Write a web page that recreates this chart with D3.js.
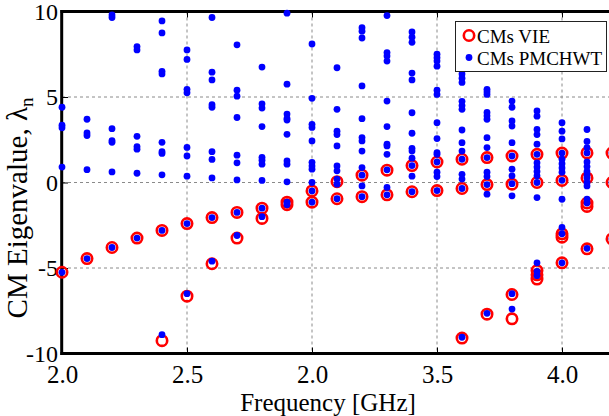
<!DOCTYPE html>
<html>
<head>
<meta charset="utf-8">
<script src="https://cdn.jsdelivr.net/npm/d3@7"></script>
<style>
  html, body { margin: 0; padding: 0; background: #fff; }
  svg { display: block; font-family: "Liberation Serif", "Times New Roman", serif; }
</style>
</head>
<body>
<svg id="chart" width="609" height="416"></svg>
<script>
// Frequency samples (GHz)
const frequencies = [2.0, 2.1, 2.2, 2.3, 2.4, 2.5, 2.6, 2.7, 2.8, 2.9, 3.0, 3.1,
                     3.2, 3.3, 3.4, 3.5, 3.6, 3.7, 3.8, 3.9, 4.0, 4.1, 4.2];

// Characteristic-mode eigenvalues from the volume integral equation solver
const vieEigenvalues = [
  [-5.25],
  [-4.45],
  [-3.8],
  [-3.25],
  [-2.8, -9.25],
  [-2.4, -6.65],
  [-2.05, -4.75],
  [-1.75, -3.25],
  [-1.5, -2.1],
  [-1.15, -1.3],
  [-0.49, -1.15],
  [0.05, -0.95],
  [0.43, -0.83],
  [0.72, -0.72],
  [0.99, -0.54],
  [1.2, -0.47],
  [1.36, -0.35, -9.1],
  [1.46, -0.12, -7.7],
  [1.55, -0.1, -6.55, -7.97],
  [1.65, 0.0, -5.15, -5.4, -5.65],
  [1.72, 0.12, -3.0, -3.2, -4.7],
  [1.73, 0.27, -1.2, -1.4, -3.88],
  [1.72, 0.0, -3.3]
];

// Characteristic-mode eigenvalues from the PMCHWT surface formulation
const pmchwtEigenvalues = [
  [4.4, 3.35, 3.2, 0.9, -5.25],
  [3.7, 2.9, 2.75, 0.75, -4.45],
  [9.8, 9.65, 3.15, 2.45, 2.35, 0.62, -3.8],
  [7.95, 7.75, 2.7, 2.1, 1.95, 0.54, -3.25],
  [9.45, 8.75, 6.5, 6.35, 2.35, 1.8, 1.7, 0.45, -2.8, -8.9],
  [7.75, 7.2, 5.45, 5.25, 2.05, 1.55, 0.37, -2.4, -6.5],
  [9.65, 6.45, 6.0, 4.55, 4.4, 1.8, 1.35, 0.27, -2.05, -4.6],
  [8.05, 5.4, 5.05, 3.8, 1.6, 1.15, 0.15, -1.75, -3.1],
  [6.75, 4.6, 4.35, 3.27, 1.47, 1.3, 1.07, 0.12, -1.5, -2.0],
  [9.9, 5.75, 4.0, 3.75, 3.65, 2.82, 1.26, 1.07, 0.04, -1.15, -1.3],
  [8.1, 4.92, 3.4, 3.22, 2.43, 1.18, 0.97, 0.78, 0.0, -0.49, -1.15],
  [6.71, 4.28, 3.0, 2.8, 2.14, 0.97, 0.68, 0.2, -0.1, -0.95],
  [9.05, 8.85, 8.45, 5.65, 3.73, 2.63, 2.43, 1.84, 0.87, 0.43, -0.2, -0.83],
  [9.76, 7.6, 7.4, 7.1, 4.76, 3.27, 2.24, 2.14, 1.65, 0.74, -0.29, -0.72],
  [8.8, 8.5, 8.2, 6.4, 6.0, 4.08, 2.88, 2.0, 1.84, 1.42, 0.99, 0.37, -0.54],
  [7.5, 7.3, 7.1, 6.8, 5.4, 5.15, 3.5, 2.57, 1.75, 1.65, 1.2, 0.6, 0.35, -0.47],
  [6.6, 6.35, 6.1, 5.85, 4.75, 4.5, 4.28, 3.07, 2.33, 1.84, 1.36, 0.48, 0.2, -0.35, -9.05],
  [5.45, 5.3, 5.15, 4.1, 3.9, 3.7, 2.62, 2.04, 1.46, 0.6, 0.35, -0.12, -0.68, -7.65],
  [4.76, 4.4, 3.6, 3.3, 2.33, 1.55, 0.78, 0.39, -0.07, -0.78, -6.5, -7.4],
  [4.18, 3.88, 3.1, 2.8, 2.24, 1.65, 1.15, 0.9, 0.65, 0.39, 0.0, -0.88, -4.7, -5.2, -5.45],
  [3.5, 3.0, 2.55, 1.72, 1.36, 1.1, 0.85, 0.6, 0.13, -0.98, -2.63, -3.0, -4.7],
  [3.1, 2.4, 2.04, 1.73, 1.2, 0.93, 0.65, 0.45, 0.28, 0.0, -0.2, -0.97, -1.2, -3.85],
  [1.72, 0.0, -3.3]
];

const xTickValues = [2.0, 2.5, 3.0, 3.5, 4.0];
const xTickLabels = ["2.0", "2.5", "2.0", "3.5", "4.0"];
const yTickValues = [10, 5, 0, -5, -10];
const yTickLabels = ["10", "5", "0", "-5", "-10"];
const seriesNames = ["CMs VIE", "CMs PMCHWT"];

const svg = d3.select("#chart");
const W = 609, H = 416;

const x = d3.scaleLinear().domain([2.0, 2.0 + 547 / 250]).range([62, 609]);
const y = d3.scaleLinear().domain([-10, 10]).range([353.5, 11.5]);

const flatten = rows => rows.flatMap((vals, i) => vals.map(v => ({ f: frequencies[i], v })));
const viePts = flatten(vieEigenvalues);
const pmchwtPts = flatten(pmchwtEigenvalues);

// dashed grid
const grid = svg.append("g").attr("stroke", "#8a8a8a").attr("stroke-width", 1)
  .attr("stroke-dasharray", "3,3");
grid.selectAll("line.gx").data(xTickValues.filter(d => d > 2.0)).join("line")
  .attr("x1", d => x(d)).attr("x2", d => x(d))
  .attr("y1", y(10)).attr("y2", y(-10));
grid.selectAll("line.gy").data(yTickValues.filter(d => d < 10 && d > -10)).join("line")
  .attr("x1", x(2.0)).attr("x2", W)
  .attr("y1", d => y(d)).attr("y2", d => y(d));

// x axis labels and inward ticks
const xAxis = d3.axisBottom(x).tickValues(xTickValues)
  .tickFormat((d, i) => xTickLabels[i]).tickSize(-6).tickPadding(12);
const gx = svg.append("g").attr("transform", `translate(0,${y(-10)})`).call(xAxis);
gx.select(".domain").remove();
gx.selectAll(".tick line").attr("stroke", "#000");
gx.selectAll(".tick text").attr("font-size", 25).attr("fill", "#000")
  .attr("font-family", "Liberation Serif, serif");

// top ticks
const xTop = d3.axisTop(x).tickValues(xTickValues).tickFormat("").tickSize(-6);
const gxt = svg.append("g").attr("transform", `translate(0,${y(10)})`).call(xTop);
gxt.select(".domain").remove();
gxt.selectAll(".tick line").attr("stroke", "#000");

// y axis labels and inward ticks
const yAxis = d3.axisLeft(y).tickValues(yTickValues)
  .tickFormat((d, i) => yTickLabels[i]).tickSize(-6).tickPadding(4);
const gy = svg.append("g").attr("transform", `translate(${x(2.0)},0)`).call(yAxis);
gy.select(".domain").remove();
gy.selectAll(".tick line").attr("stroke", "#000");
gy.selectAll(".tick text").attr("font-size", 24).attr("fill", "#000")
  .attr("font-family", "Liberation Serif, serif");

// frame: left, top and bottom borders
const frame = svg.append("g").attr("stroke", "#000").attr("stroke-width", 3);
frame.append("line").attr("x1", x(2.0) - 0.3).attr("x2", x(2.0) - 0.3)
  .attr("y1", y(10) - 1.5).attr("y2", y(-10) + 1.5);
frame.append("line").attr("x1", x(2.0) - 1.5).attr("x2", W)
  .attr("y1", y(10)).attr("y2", y(10));
frame.append("line").attr("x1", x(2.0) - 1.5).attr("x2", W)
  .attr("y1", y(-10)).attr("y2", y(-10));

// VIE markers: open red circles
svg.append("g").selectAll("circle").data(viePts).join("circle")
  .attr("cx", d => x(d.f)).attr("cy", d => y(d.v)).attr("r", 5.2)
  .attr("fill", "none").attr("stroke", "#ff0000").attr("stroke-width", 2.6);

// PMCHWT markers: filled blue dots
svg.append("g").selectAll("circle").data(pmchwtPts).join("circle")
  .attr("cx", d => x(d.f)).attr("cy", d => y(d.v)).attr("r", 3.4)
  .attr("fill", "#0000ff");

// axis titles
svg.append("text").attr("x", 328).attr("y", 411).attr("text-anchor", "middle")
  .attr("font-size", 25).attr("fill", "#000").text("Frequency [GHz]");

const yTitle = svg.append("text")
  .attr("transform", "translate(27,208) rotate(-90)")
  .attr("text-anchor", "middle").attr("font-size", 29).attr("fill", "#000");
yTitle.append("tspan").text("CM Eigenvalue, \u03bb");
yTitle.append("tspan").attr("font-size", 19).attr("dy", 6).text("n");

// legend
const lg = svg.append("g");
lg.append("rect").attr("x", 455.5).attr("y", 21.5).attr("width", 151).attr("height", 50)
  .attr("fill", "#fff").attr("stroke", "#222").attr("stroke-width", 1);
lg.append("circle").attr("cx", 469).attr("cy", 35.5).attr("r", 5.2)
  .attr("fill", "none").attr("stroke", "#ff0000").attr("stroke-width", 2.6);
lg.append("circle").attr("cx", 469).attr("cy", 57.5).attr("r", 3.4).attr("fill", "#0000ff");
lg.selectAll("text").data(seriesNames).join("text")
  .attr("x", 477).attr("y", (d, i) => 43 + i * 22)
  .attr("font-size", 19).attr("fill", "#000").text(d => d);
</script>
</body>
</html>
